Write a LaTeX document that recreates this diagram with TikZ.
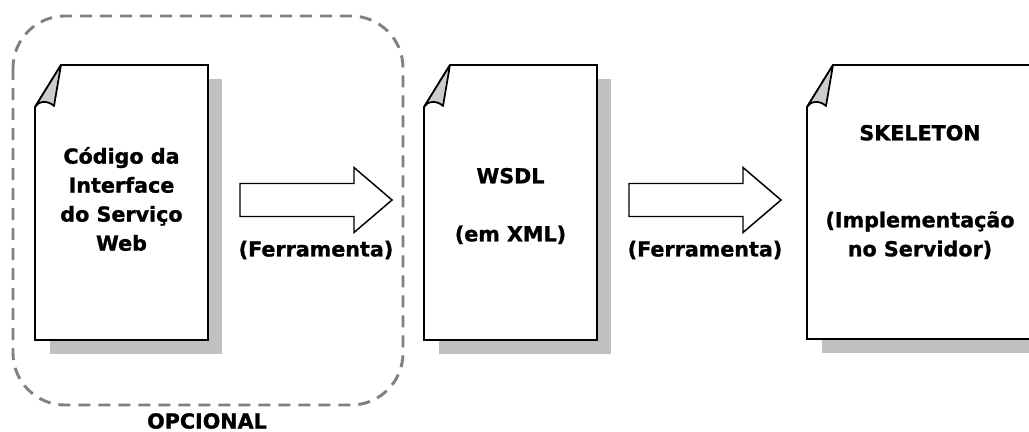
\documentclass[tikz,border=0pt]{standalone}
\usepackage{fontspec}
\setmainfont{DejaVu Sans}[BoldFeatures={FakeBold=1.2}]
\definecolor{shadowgray}{RGB}{192,192,192}
\definecolor{flapgray}{RGB}{204,204,204}
\definecolor{dashgray}{RGB}{128,128,128}
\tikzset{
  docline/.style={draw=black, line width=1.3pt, line join=miter},
  arrowline/.style={draw=black, line width=1.1pt, line join=miter, fill=white},
  dashbox/.style={draw=dashgray, line width=2.2pt, dash pattern=on 9pt off 6pt, rounded corners=39pt},
  doctext/.style={align=center, inner sep=0pt, font=\bfseries\fontsize{15.5pt}{21.75pt}\selectfont},
}
% a sheet of paper with a dog-eared top-left corner and a drop shadow
% #1 name, #2 left, #3 top, #4 right, #5 bottom
\newcommand{\paperdoc}[5]{%
  \fill[shadowgray] (#2+15,#3+14) rectangle (#4+14,#5+14);
  \draw[docline, fill=white] (#2,#3+42) -- (#2+26,#3) -- (#4,#3) -- (#4,#5) -- (#2,#5) -- cycle;
  \draw[docline, fill=flapgray, line join=round] (#2,#3+42)
     .. controls (#2+3,#3+36) and (#2+13,#3+35) .. (#2+19,#3+41) -- (#2+26,#3) -- cycle;
  \coordinate (#1) at ({(#2+#4)/2},{(#3+#5)/2});
}
% a hollow block arrow: #1 tail x, #2 tip x, #3 centre y
\newcommand{\blockarrow}[3]{%
  \draw[arrowline] (#1,#3-16.5) -- (#2-38,#3-16.5) -- (#2-38,#3-32.5) -- (#2,#3)
     -- (#2-38,#3+32.5) -- (#2-38,#3+16.5) -- (#1,#3+16.5) -- cycle;
}
\begin{document}
\begin{tikzpicture}[x=0.75pt, y=-0.75pt]
  \useasboundingbox (0,0) rectangle (1029,432);

  % optional part of the process
  \draw[dashbox] (13,16) rectangle (403,405);
  \node[doctext] (opc) at (207,421) {OPCIONAL};

  % the three documents
  \paperdoc{src}{35}{65}{208}{340}
  \paperdoc{wsdl}{424}{65}{597}{340}
  \paperdoc{skel}{807}{65}{1033}{339}

  \node[doctext] (srctext) at (121.5,199) {Código da\\Interface\\do Serviço\\Web};
  \node[doctext] (wsdltext) at (510.5,206) {WSDL\\\mbox{}\\(em XML)};
  \node[doctext] (skeltext) at (920,192) {SKELETON\\\mbox{}\\\mbox{}\\(Implementação\\no Servidor)};

  % tool steps between the documents
  \blockarrow{240}{392}{200}
  \node[doctext] (tool1) at (316,250) {(Ferramenta)};
  \blockarrow{629}{781}{200}
  \node[doctext] (tool2) at (705,250) {(Ferramenta)};
\end{tikzpicture}
\end{document}
